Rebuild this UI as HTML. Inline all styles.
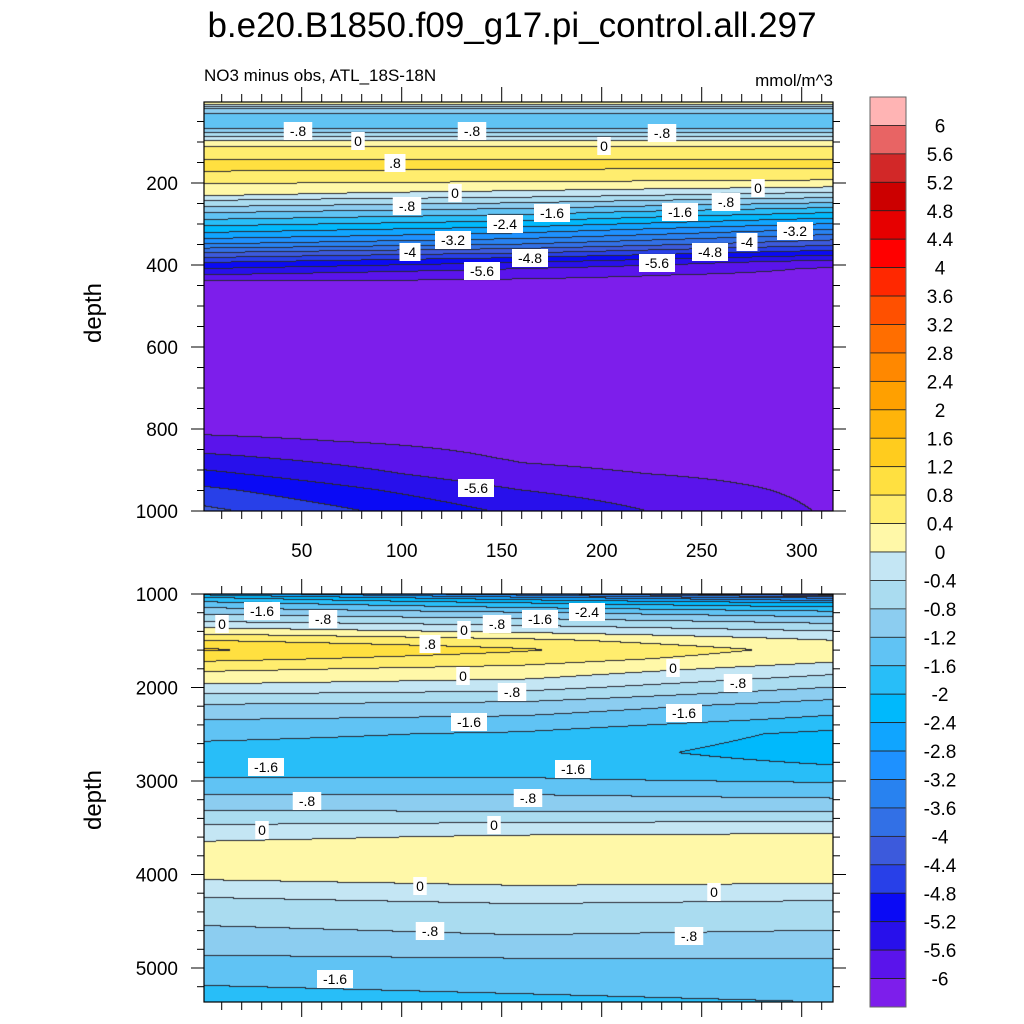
<!DOCTYPE html>
<html><head><meta charset="utf-8"><style>
body{margin:0;background:#fff;width:1024px;height:1024px;overflow:hidden;font-family:"Liberation Sans",sans-serif;}
.abs{position:absolute}
canvas{position:absolute}
</style></head><body>
<div style="position:relative;width:1024px;height:1024px">
<canvas id="ct" width="629" height="409" style="left:204px;top:102px"></canvas>
<canvas id="cb" width="629" height="408" style="left:204px;top:594px"></canvas>
<svg id="ov" class="abs" style="left:0;top:0" width="1024" height="1024"></svg>
</div>
<script>
const levelColors=["#FFB4B4","#E86464","#D22828","#CC0000","#E60000","#FF0000","#FF2800","#FF5000","#FF6E00","#FF8800","#FFA000","#FFB40A","#FFCC1E","#FFE040","#FFED6E","#FFF8A8","#C4E6F4","#AADCF0","#8CCDF0","#60C3F4","#28BEF8","#00B9FC","#10A5FF","#1E91FF","#2882F0","#3270E6","#3C5ADC","#2840E8","#0A0AF5","#2810EB","#5A14EB","#7D1EEB"];
const levelLabels=["6","5.6","5.2","4.8","4.4","4","3.6","3.2","2.8","2.4","2","1.6","1.2","0.8","0.4","0","-0.4","-0.8","-1.2","-1.6","-2","-2.4","-2.8","-3.2","-3.6","-4","-4.4","-4.8","-5.2","-5.6","-6"];
const colX=[0,160,316];
const topDepths=[0,8,12,22,35,50,65,75,85,95,105,115,130,160,185,200,215,230,240,255,270,290,310,330,350,365,380,395,410,425,440,470,600,800,830,870,910,950,1000];
const topCol0=[0.2,0.1,-0.3,-0.9,-1.3,-1.5,-1.3,-0.9,-0.5,-0.1,0.2,0.5,0.75,0.85,0.75,0.45,0.2,0.05,-0.3,-0.7,-1.1,-1.6,-2.1,-2.6,-3.2,-3.8,-4.3,-4.8,-5.2,-5.6,-6.0,-6.1,-6.2,-6.1,-5.9,-5.5,-5.1,-4.7,-4.3];
const topCol1=[0.2,0.1,-0.3,-0.9,-1.3,-1.5,-1.3,-0.9,-0.5,-0.1,0.2,0.5,0.75,0.85,0.7,0.35,0.1,-0.2,-0.55,-0.95,-1.4,-1.9,-2.45,-3.0,-3.6,-4.15,-4.7,-5.2,-5.6,-5.9,-6.05,-6.1,-6.25,-6.2,-6.15,-6.05,-5.9,-5.6,-5.3];
const topCol2=[0.2,0.1,-0.3,-0.9,-1.3,-1.5,-1.3,-0.9,-0.5,-0.1,0.2,0.5,0.75,0.85,0.6,0.25,-0.1,-0.6,-0.9,-1.4,-1.9,-2.5,-3.1,-3.7,-4.3,-4.8,-5.3,-5.8,-6.05,-6.1,-6.15,-6.2,-6.3,-6.3,-6.25,-6.2,-6.15,-6.1,-6.05];
const botDepths=[1000,1050,1100,1200,1300,1400,1500,1600,1700,1800,1900,2000,2100,2200,2350,2500,2700,2900,3000,3150,3300,3450,3600,3750,3850,4000,4100,4250,4450,4700,4900,5100,5370];
const botCol0=[-2.6,-1.9,-1.5,-0.9,-0.4,0.2,0.8,1.25,0.9,0.5,0.2,-0.1,-0.5,-0.85,-1.2,-1.5,-1.75,-1.7,-1.55,-1.2,-0.85,-0.45,-0.1,0.2,0.35,0.15,-0.1,-0.4,-0.7,-0.95,-1.25,-1.55,-1.7];
const botCol1=[-3.5,-2.6,-2.0,-1.2,-0.6,-0.1,0.5,0.85,0.6,0.3,0.05,-0.25,-0.6,-0.95,-1.3,-1.65,-1.8,-1.7,-1.55,-1.2,-0.9,-0.4,0.05,0.3,0.4,0.3,0.05,-0.3,-0.6,-0.85,-1.2,-1.5,-1.65];
const botCol2=[-4.6,-3.2,-2.4,-1.5,-0.9,-0.4,0.0,0.25,0.1,-0.2,-0.5,-0.8,-1.1,-1.4,-1.7,-2.1,-2.2,-1.9,-1.65,-1.3,-0.9,-0.35,0.1,0.35,0.38,0.2,0.0,-0.35,-0.65,-0.9,-1.2,-1.45,-1.6];
const xTicks=[50,100,150,200,250,300];
const topYTicks=[200,400,600,800,1000];
const botYTicks=[1000,2000,3000,4000,5000];

const NS='http://www.w3.org/2000/svg';
const ov=document.getElementById('ov');
function xPx(x){return 201.7+2*x;}
function topY(d){return 511-(1000-d)*0.41;}
function botY(d){return 594+(d-1000)*0.0935;}
function interp(ds,vs,d){
  if(d<=ds[0])return vs[0];
  for(let i=1;i<ds.length;i++){if(d<=ds[i]){const t=(d-ds[i-1])/(ds[i]-ds[i-1]);return vs[i-1]+t*(vs[i]-vs[i-1]);}}
  return vs[vs.length-1];
}
function levelIdx(v){let k=15-Math.floor(v/0.4+1e-9);if(v>=6)k=0;return Math.max(0,Math.min(31,k));}
function hex(c){return [parseInt(c.substr(1,2),16),parseInt(c.substr(3,2),16),parseInt(c.substr(5,2),16)];}
const rgb=levelColors.map(hex);
function drawField(id,ds,cols,x0,y0,yInv){
  const cv=document.getElementById(id),ctx=cv.getContext('2d');
  const W=cv.width,H=cv.height,img=ctx.createImageData(W,H);
  const idx=new Int16Array(W*H);
  for(let j=0;j<H;j++){
    const d=yInv(y0+j+0.5);
    const p=cols.map(c=>interp(ds,c,d));
    for(let i=0;i<W;i++){
      const x=(x0+i+0.5-201.7)/2;
      let v;
      if(x<=colX[1]){const t=(x-colX[0])/(colX[1]-colX[0]);v=p[0]+t*(p[1]-p[0]);}
      else{const t=(x-colX[1])/(colX[2]-colX[1]);v=p[1]+t*(p[2]-p[1]);}
      idx[j*W+i]=levelIdx(v);
    }
  }
  for(let j=0;j<H;j++)for(let i=0;i<W;i++){
    const k=idx[j*W+i];let c=rgb[k];
    const line=(i+1<W&&idx[j*W+i+1]!==k)||(j+1<H&&idx[(j+1)*W+i]!==k);
    const o=(j*W+i)*4;
    if(line){img.data[o]=40;img.data[o+1]=40;img.data[o+2]=50;}
    else{img.data[o]=c[0];img.data[o+1]=c[1];img.data[o+2]=c[2];}
    img.data[o+3]=255;
  }
  ctx.putImageData(img,0,0);
}
drawField('ct',topDepths,[topCol0,topCol1,topCol2],204,102,y=>1000-(511-y)/0.41);
drawField('cb',botDepths,[botCol0,botCol1,botCol2],204,594,y=>1000+(y-594)/0.0935);

function el(tag,attrs,name,inter){const e=document.createElementNS(NS,tag);for(const k in attrs)e.setAttribute(k,attrs[k]);
  
  
  ov.appendChild(e);return e;}
function txt(x,y,s,size,anchor,name,extra){const t=el('text',Object.assign({x:x,y:y,'font-size':size,'text-anchor':anchor||'middle','font-family':'Liberation Sans, sans-serif',fill:'#000'},extra||{}),name,false);t.textContent=s;return t;}

el('rect',{x:204,y:102,width:629,height:409,fill:'none',stroke:'#000','stroke-width':1.2},'top-plot-frame',false);
el('rect',{x:204,y:594,width:629,height:408,fill:'none',stroke:'#000','stroke-width':1.2},'bottom-plot-frame',false);
for(let x=10;x<=310;x+=10){
  const major=x%50===0, px=xPx(x), L=major?15:8;
  el('line',{x1:px,y1:511,x2:px,y2:511+L,stroke:'#000','stroke-width':1},'top-x-tick',false);
  el('line',{x1:px,y1:102,x2:px,y2:102-L,stroke:'#000','stroke-width':1},'top-x-tick-upper',false);
  el('line',{x1:px,y1:594,x2:px,y2:594-L,stroke:'#000','stroke-width':1},'bottom-x-tick-upper',false);
  el('line',{x1:px,y1:1002,x2:px,y2:1002+L,stroke:'#000','stroke-width':1},'bottom-x-tick',false);
}
xTicks.forEach(x=>txt(xPx(x),557,String(x),19,'middle','x-tick-label'));
for(let d=50;d<=1000;d+=50){
  const major=d%200===0,y=topY(d),L=major?13:7;
  el('line',{x1:204,y1:y,x2:204-L,y2:y,stroke:'#000','stroke-width':1},'top-y-tick',false);
  el('line',{x1:833,y1:y,x2:833+L,y2:y,stroke:'#000','stroke-width':1},'top-y-tick-right',false);
}
topYTicks.forEach(d=>txt(178,topY(d)+7,String(d),19,'end','top-y-tick-label'));
for(let d=1200;d<=5200;d+=200){
  const major=d%1000===0,y=botY(d),L=major?13:7;
  el('line',{x1:204,y1:y,x2:204-L,y2:y,stroke:'#000','stroke-width':1},'bottom-y-tick',false);
  el('line',{x1:833,y1:y,x2:833+L,y2:y,stroke:'#000','stroke-width':1},'bottom-y-tick-right',false);
}
el('line',{x1:204,y1:594,x2:191,y2:594,stroke:'#000'},'bottom-y-tick',false);
el('line',{x1:833,y1:594,x2:846,y2:594,stroke:'#000'},'bottom-y-tick-right',false);
botYTicks.forEach(d=>txt(178,botY(d)+7,String(d),19,'end','bottom-y-tick-label'));
txt(512,37,'b.e20.B1850.f09_g17.pi_control.all.297',35,'middle','main-title');
txt(204,81,'NO3 minus obs, ATL_18S-18N',17,'start','top-subtitle');
txt(833,86,'mmol/m^3',17,'end','units-label');
txt(101,313,'depth',24,'middle','top-y-axis-title',{transform:'rotate(-90 101 313)'});
txt(101,800,'depth',24,'middle','bottom-y-axis-title',{transform:'rotate(-90 101 800)'});
const cbTop=97,cbH=910/32;
levelColors.forEach((c,i)=>{el('rect',{x:870,y:cbTop+i*cbH,width:36,height:cbH,fill:c,stroke:'#222','stroke-width':0.8},'colorbar-box',false);});
el('rect',{x:870,y:cbTop,width:36,height:910,fill:'none',stroke:'#666','stroke-width':1},'colorbar-frame',false);
levelLabels.forEach((s,i)=>txt(940,cbTop+(i+1)*cbH+7,s,19,'middle','colorbar-label'));
const cl=[[298,131,'-.8'],[358,141,'0'],[472,131,'-.8'],[604,146,'0'],[662,133,'-.8'],[395,163,'.8'],[407,206,'-.8'],[455,193,'0'],[453,240,'-3.2'],[505,224,'-2.4'],[552,213,'-1.6'],[680,212,'-1.6'],[726,202,'-.8'],[758,188,'0'],[795,231,'-3.2'],[747,242,'-4'],[710,252,'-4.8'],[657,263,'-5.6'],[530,258,'-4.8'],[482,271,'-5.6'],[410,252,'-4'],[476,488,'-5.6'],
[262,611,'-1.6'],[323,619,'-.8'],[222,624,'0'],[430,644,'.8'],[464,630,'0'],[497,624,'-.8'],[540,619,'-1.6'],[587,612,'-2.4'],[463,676,'0'],[512,692,'-.8'],[673,668,'0'],[738,683,'-.8'],[469,722,'-1.6'],[684,713,'-1.6'],[266,767,'-1.6'],[573,769,'-1.6'],[307,801,'-.8'],[528,798,'-.8'],[262,830,'0'],[494,825,'0'],[420,886,'0'],[714,892,'0'],[430,931,'-.8'],[689,936,'-.8'],[335,979,'-1.6']];
cl.forEach(c=>{const w=c[2].length*7.5+6;
  el('rect',{x:c[0]-w/2,y:c[1]-9,width:w,height:18,fill:'#fff'},'contour-label-box',false);
  txt(c[0],c[1]+5,c[2],14,'middle','contour-label');});
</script>
</body></html>
